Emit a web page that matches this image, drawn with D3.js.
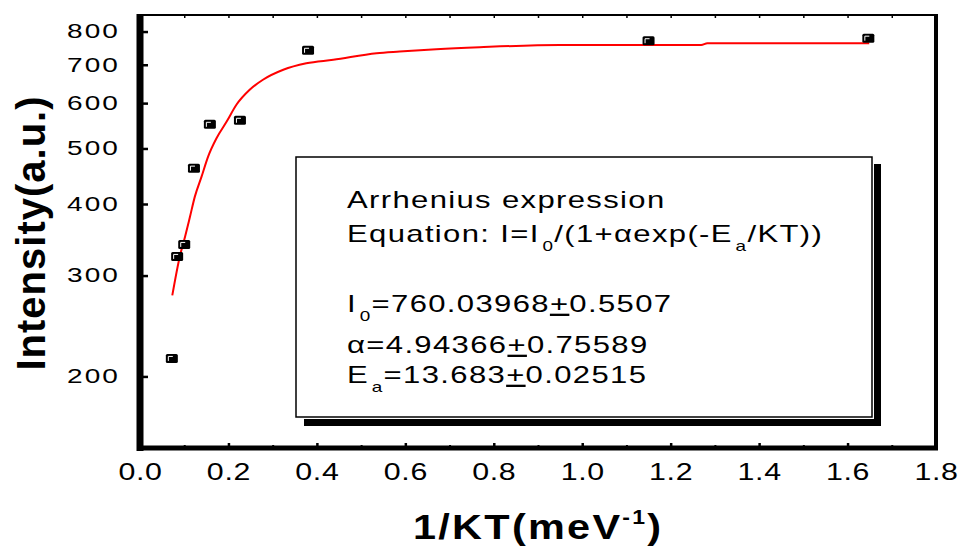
<!DOCTYPE html>
<html>
<head>
<meta charset="utf-8">
<script src="https://cdn.jsdelivr.net/npm/d3@7"></script>
<style>
  body { margin: 0; background: #fff; }
  svg { display: block; }
  text { font-family: "Liberation Sans", Arial, sans-serif; fill: #000; }
</style>
</head>
<body>
<svg width="959" height="546"></svg>
<script>
// measured points, 1/KT (meV^-1) and intensity (a.u.)
let kt = [0.072, 0.084, 0.100, 0.122, 0.158, 0.226, 0.380, 1.150, 1.647];
let intensity = [215, 324, 340, 462, 551, 560, 742, 771, 779];

// fitted curve
let fitKT = [0.073, 0.090, 0.102, 0.113, 0.124, 0.139, 0.154, 0.173, 0.196, 0.218, 0.248, 0.278,
             0.324, 0.376, 0.437, 0.535, 0.587, 0.670, 0.768, 0.949, 1.269, 1.283, 1.649];
let fitI = [277, 324, 351, 380, 412, 446, 484, 521, 557, 596, 633, 659,
            686, 704, 714, 733, 738, 745, 751, 758, 758, 763, 763];

let xTickVals = [0.0, 0.2, 0.4, 0.6, 0.8, 1.0, 1.2, 1.4, 1.6, 1.8];
let xMinorVals = [0.1, 0.3, 0.5, 0.7, 0.9, 1.1, 1.3, 1.5, 1.7];
let xTopVals = [0.1, 0.2, 0.3, 0.4, 0.5, 0.6, 0.7, 0.8, 0.9, 1.0, 1.1, 1.2, 1.3, 1.4, 1.5, 1.6, 1.7];
let yTickVals = [200, 300, 400, 500, 600, 700, 800];

// fit box text: [text, kind]
let legendLines = [
  [["Arrhenius expression"]],
  [["Equation: I=I"], ["0", "sub"], ["/(1+"], ["\u03b1"], ["exp(-E"], ["a", "sub"], ["/KT))"]],
  [["I"], ["0", "sub"], ["=760.03968"], ["+", "pm"], ["0.5507"]],
  [["\u03b1=4.94366"], ["+", "pm"], ["0.75589"]],
  [["E"], ["a", "sub"], ["=13.683"], ["+", "pm"], ["0.02515"]]
];
let legendY = [208, 242, 312, 353, 383];

let svg = d3.select("svg");
let SX = 1.4; // the original figure is stretched sideways

let x = d3.scaleLinear().domain([0, 1.8]).range([140, 936]);
let y = d3.scaleLog().domain([150, 855]).range([448, 15]);

// axes
let bottomAxis = svg.append("g").attr("transform", "translate(0,448)")
  .call(d3.axisBottom(x).tickValues(xTickVals).tickSize(-5).tickFormat(d3.format(".1f")));
bottomAxis.select(".domain").remove();
bottomAxis.selectAll("line").attr("stroke-width", 2.5);
bottomAxis.selectAll("text")
  .attr("y", 32).attr("dy", null)
  .attr("transform", "scale(1.32,1)")
  .style("font-size", "23px").style("letter-spacing", "0.5px");

let minorAxis = svg.append("g").attr("transform", "translate(0,448)")
  .call(d3.axisBottom(x).tickValues(xMinorVals).tickSize(-3).tickFormat(""));
minorAxis.select(".domain").remove();
minorAxis.selectAll("line").attr("stroke-width", 2);

let topAxis = svg.append("g").attr("transform", "translate(0,15)")
  .call(d3.axisTop(x).tickValues(xTopVals).tickSize(-3).tickFormat(""));
topAxis.select(".domain").remove();
topAxis.selectAll("line").attr("stroke-width", 1.5);

let leftAxis = svg.append("g").attr("transform", "translate(140,0)")
  .call(d3.axisLeft(y).tickValues(yTickVals).tickSize(-8).tickFormat(d3.format("d")));
leftAxis.select(".domain").remove();
leftAxis.selectAll("line").attr("stroke-width", 2.5);
leftAxis.selectAll("text")
  .attr("x", -20 / SX)
  .attr("transform", "scale(" + SX + ",1)")
  .style("font-size", "20px").style("letter-spacing", "1.5px");

// frame
svg.append("line").attr("x1", 140).attr("x2", 936).attr("y1", 15).attr("y2", 15)
  .attr("stroke", "#000").attr("stroke-width", 2);
svg.append("line").attr("x1", 936).attr("x2", 936).attr("y1", 14).attr("y2", 450)
  .attr("stroke", "#000").attr("stroke-width", 4);
svg.append("line").attr("x1", 137).attr("x2", 938).attr("y1", 448).attr("y2", 448)
  .attr("stroke", "#000").attr("stroke-width", 5);
svg.append("line").attr("x1", 140).attr("x2", 140).attr("y1", 14).attr("y2", 451)
  .attr("stroke", "#000").attr("stroke-width", 7);

// fitted curve
let fit = fitKT.map((d, i) => [d, fitI[i]]);
svg.append("path")
  .datum(fit)
  .attr("fill", "none")
  .attr("stroke", "#ff0000")
  .attr("stroke-width", 2)
  .attr("d", d3.line().curve(d3.curveMonotoneX).x(d => x(d[0])).y(d => y(d[1])));

// data markers
let pts = svg.append("g").selectAll("g")
  .data(kt.map((d, i) => [d, intensity[i]]))
  .join("g")
  .attr("transform", d => "translate(" + x(d[0]) + "," + y(d[1]) + ")");
pts.append("rect")
  .attr("x", -6).attr("y", -4.5).attr("width", 12).attr("height", 9).attr("rx", 1.5)
  .attr("fill", "#000");
pts.append("path")
  .attr("d", "M-3.5,2.5V-2H1")
  .attr("fill", "none").attr("stroke", "#fff").attr("stroke-width", 1);

// fit box with shadow
let box = svg.append("g");
box.append("rect").attr("x", 304).attr("y", 164).attr("width", 577).attr("height", 262).attr("fill", "#000");
box.append("rect").attr("x", 296).attr("y", 157).attr("width", 576).attr("height", 260)
  .attr("fill", "#fff").attr("stroke", "#fff").attr("stroke-width", 4);
box.append("rect").attr("x", 296).attr("y", 157).attr("width", 576).attr("height", 260)
  .attr("fill", "#fff").attr("stroke", "#000").attr("stroke-width", 1.5);

let LSX = 1.35;
legendLines.forEach((segs, i) => {
  let t = box.append("text")
    .attr("transform", "translate(347," + legendY[i] + ") scale(" + LSX + ",1)")
    .style("font-size", "23px").style("letter-spacing", "1px");
  let shift = 0;
  segs.forEach(([s, kind]) => {
    let want = kind === "sub" ? 9 : 0;
    let ts = t.append("tspan").text(s).attr("dy", want - shift);
    shift = want;
    if (kind === "sub") ts.style("font-size", "14px").attr("dx", 2);
    if (kind === "pm") ts.style("text-decoration", "underline").style("text-decoration-thickness", "2.5px");
  });
});

// axis titles
let xt = svg.append("text")
  .attr("transform", "translate(413,539) scale(1.15,1)")
  .style("font-size", "36px").style("font-weight", "bold").style("letter-spacing", "2px");
xt.append("tspan").text("1/KT(meV");
xt.append("tspan").text("-1").attr("dy", -15).style("font-size", "20px");
xt.append("tspan").text(")").attr("dy", 15);

svg.append("text")
  .attr("transform", "translate(45,233) rotate(-90)")
  .attr("text-anchor", "middle")
  .style("font-size", "40px").style("font-weight", "bold").style("letter-spacing", "1px")
  .text("Intensity(a.u.)");
</script>
</body>
</html>
